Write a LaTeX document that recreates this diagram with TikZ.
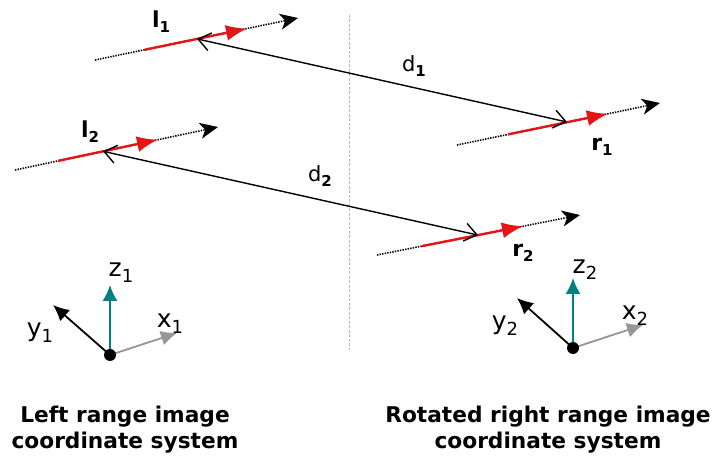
\documentclass[tikz,border=0pt]{standalone}
\usepackage{fontspec}
\setmainfont{DejaVu Sans}
\usetikzlibrary{arrows.meta}
\definecolor{myred}{RGB}{230,20,20}
\definecolor{myteal}{RGB}{0,128,128}
\definecolor{mygray}{RGB}{150,150,150}
\definecolor{sepgray}{RGB}{185,185,185}
\newcommand\blab[2]{{\fontsize{22}{24}\selectfont\bfseries #1\raisebox{-5pt}{\fontsize{15}{16}\selectfont #2}}}
\newcommand\dlab[2]{{\fontsize{21}{24}\selectfont #1\raisebox{-5pt}{\fontsize{15}{16}\selectfont\bfseries #2}}}
\newcommand\alab[2]{{\fontsize{25}{28}\selectfont #1\raisebox{-6pt}{\fontsize{18}{20}\selectfont #2}}}
\begin{document}
\begin{tikzpicture}[x=1pt,y=-1pt,
  dotline/.style={line width=1.6pt, dash pattern=on 1.4pt off 1.2pt, -{Stealth[length=18pt,width=16pt,inset=5pt]}},
  redseg/.style={myred, line width=2.4pt, -{Latex[length=21pt,width=16pt]}},
  dist/.style={line width=1.4pt, {Straight Barb[length=12pt,width=18pt]}-{Straight Barb[length=12pt,width=18pt]}},
  axisarrow/.style={line width=1.8pt, -{Latex[length=16pt,width=15pt]}},
  caption/.style={inner sep=0pt, align=center, font=\fontsize{21.7}{25.5}\selectfont\bfseries},
  lbl/.style={inner sep=0pt}]
\useasboundingbox (0,0) rectangle (713,462);
\fill[white] (0,0) rectangle (713,462);

% separator
\draw[sepgray, line width=0.7pt, dash pattern=on 3pt off 1.5pt] (349,15) coordinate (s1) -- (349,350) coordinate (s2);

% line l1
\coordinate (l1s) at (95,60);
\coordinate (l1r) at (145,49.7);
\coordinate (l1t) at (247,28.6);
\coordinate (l1b) at (298,18);
\coordinate (l1p) at (197,38.9);
% line r1
\coordinate (r1s) at (457,145);
\coordinate (r1r) at (508,134.4);
\coordinate (r1t) at (608,113.8);
\coordinate (r1b) at (660,103);
\coordinate (r1p) at (567,122);
% line l2
\coordinate (l2s) at (15,170);
\coordinate (l2r) at (58,160.9);
\coordinate (l2t) at (158,139.7);
\coordinate (l2b) at (218,127);
\coordinate (l2p) at (103,151.3);
% line r2
\coordinate (r2s) at (377,255);
\coordinate (r2r) at (422,246.1);
\coordinate (r2t) at (523,226.2);
\coordinate (r2b) at (580,215);
\coordinate (r2p) at (478,235.1);

\draw[dotline] (l1s) -- (l1b);
\draw[dotline] (r1s) -- (r1b);
\draw[dotline] (l2s) -- (l2b);
\draw[dotline] (r2s) -- (r2b);
\draw[redseg] (l1r) -- (l1t);
\draw[redseg] (r1r) -- (r1t);
\draw[redseg] (l2r) -- (l2t);
\draw[redseg] (r2r) -- (r2t);
\draw[dist] (l1p) -- (r1p);
\draw[dist] (l2p) -- (r2p);

\node[lbl] (L1) at (161,22) {\blab{l}{1}};
\node[lbl] (L2) at (90,132) {\blab{l}{2}};
\node[lbl] (R1) at (602,147) {\blab{r}{1}};
\node[lbl] (R2) at (523,253) {\blab{r}{2}};
\node[lbl] (D1) at (414,66) {\dlab{d}{1}};
\node[lbl] (D2) at (320,176) {\dlab{d}{2}};

% left axes
\coordinate (o1) at (110,355);
\coordinate (z1) at (110,285);
\coordinate (x1) at (177,333);
\coordinate (y1) at (53,305);
\draw[axisarrow, myteal] (o1) -- (z1);
\draw[axisarrow, mygray] (o1) -- (x1);
\draw[axisarrow, black] (o1) -- (y1);
\fill (o1) circle (6);
\node[lbl] (Z1) at (121,273) {\alab{z}{1}};
\node[lbl] (X1) at (170,324) {\alab{x}{1}};
\node[lbl] (Y1) at (40,333) {\alab{y}{1}};

% right axes
\coordinate (o2) at (573,348);
\coordinate (z2) at (573,278);
\coordinate (x2) at (643,325);
\coordinate (y2) at (517,298);
\draw[axisarrow, myteal] (o2) -- (z2);
\draw[axisarrow, mygray] (o2) -- (x2);
\draw[axisarrow, black] (o2) -- (y2);
\fill (o2) circle (6);
\node[lbl] (Z2) at (585,270) {\alab{z}{2}};
\node[lbl] (X2) at (635,316) {\alab{x}{2}};
\node[lbl] (Y2) at (505,326) {\alab{y}{2}};

\node[caption, anchor=north] (C1) at (125,406) {Left range image\\coordinate system};
\node[caption, anchor=north] (C2) at (548,406) {Rotated right range image\\coordinate system};
\end{tikzpicture}
\end{document}
